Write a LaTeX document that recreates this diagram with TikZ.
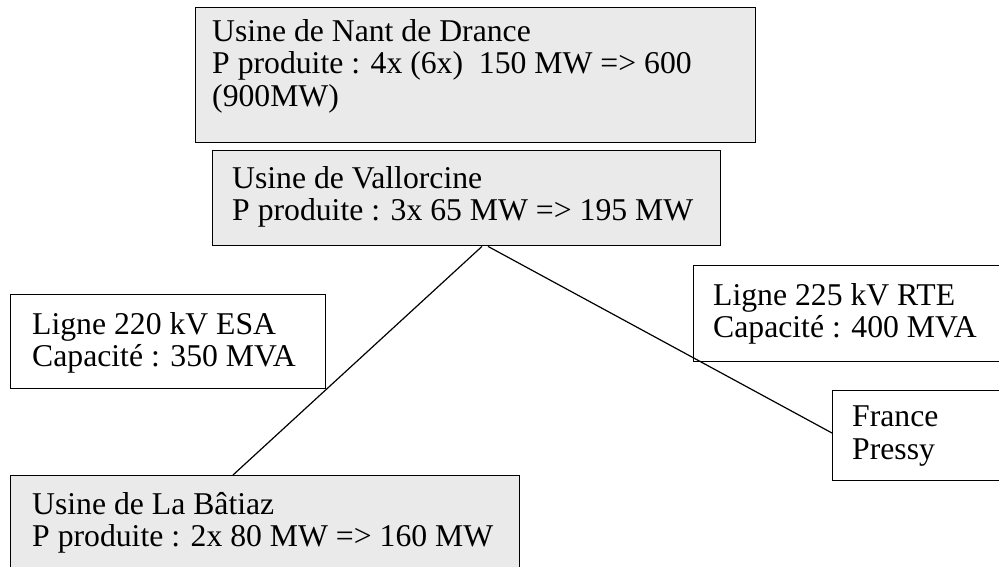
\documentclass[tikz,border=0pt]{standalone}
\usepackage{fontspec}
\setmainfont{Liberation Serif}
\definecolor{boxgray}{RGB}{234,234,234}
\tikzset{
  box/.style={draw=black, line width=1.4pt, inner sep=0pt, anchor=north west},
  shaded/.style={box, fill=boxgray},
  plain/.style={box, fill=white},
  label/.style={anchor=north west, inner sep=0pt, align=left,
    font=\fontsize{31.7}{32.5}\selectfont},
  link/.style={line width=1.2pt, draw=black}
}
\begin{document}
\begin{tikzpicture}[x=1pt, y=-1pt]
\useasboundingbox (0,0) rectangle (999,566);
% boxes
\node[shaded, minimum width=560pt, minimum height=135pt] (nant) at (195,7) {};
\node[shaded, minimum width=508pt, minimum height=95pt] (vall) at (212,150) {};
\node[plain, minimum width=315pt, minimum height=94pt] (l220) at (10,294) {};
\node[plain, minimum width=320pt, minimum height=96pt] (l225) at (693,265) {};
\node[plain, minimum width=180pt, minimum height=90pt] (fr) at (832,390) {};
\node[shaded, minimum width=509pt, minimum height=120pt] (bat) at (10,475) {};
% texts
\node[label] (nantT) at ([xshift=17pt, yshift=-12pt]nant.north west)
  {Usine de Nant de Drance\\P produite : 4x (6x)~~150 MW => 600\\(900MW)};
\node[label] (vallT) at ([xshift=20pt, yshift=-16pt]vall.north west)
  {Usine de Vallorcine\\P produite : 3x 65 MW => 195 MW};
\node[label] (l220T) at ([xshift=22pt, yshift=-18pt]l220.north west)
  {Ligne 220 kV ESA\\Capacité : 350 MVA};
\node[label] (l225T) at ([xshift=20pt, yshift=-18pt]l225.north west)
  {Ligne 225 kV RTE\\Capacité : 400 MVA};
\node[label] (frT) at ([xshift=20pt, yshift=-16pt]fr.north west)
  {France\\Pressy};
\node[label] (batT) at ([xshift=22pt, yshift=-17pt]bat.north west)
  {Usine de La Bâtiaz\\P produite : 2x 80 MW => 160 MW};
% connectors
\draw[link] ([xshift=270pt]vall.south west) -- ([xshift=223pt]bat.north west);
\draw[link] ([xshift=276pt]vall.south west) -- ([yshift=-43pt]fr.north west);
\end{tikzpicture}
\end{document}
